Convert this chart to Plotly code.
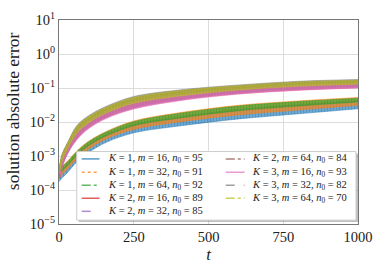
import plotly.graph_objects as go

# ---------------- data ----------------
t = [1, 10, 30, 60, 100, 160, 250, 400, 600, 800, 1000]

names = [
    "<i>K</i> = 1, <i>m</i> = 16, <i>n</i><sub>0</sub> = 95",
    "<i>K</i> = 1, <i>m</i> = 32, <i>n</i><sub>0</sub> = 91",
    "<i>K</i> = 1, <i>m</i> = 64, <i>n</i><sub>0</sub> = 92",
    "<i>K</i> = 2, <i>m</i> = 16, <i>n</i><sub>0</sub> = 89",
    "<i>K</i> = 2, <i>m</i> = 32, <i>n</i><sub>0</sub> = 85",
    "<i>K</i> = 2, <i>m</i> = 64, <i>n</i><sub>0</sub> = 84",
    "<i>K</i> = 3, <i>m</i> = 16, <i>n</i><sub>0</sub> = 93",
    "<i>K</i> = 3, <i>m</i> = 32, <i>n</i><sub>0</sub> = 82",
    "<i>K</i> = 3, <i>m</i> = 64, <i>n</i><sub>0</sub> = 70",
]

# lower / upper envelope of each oscillating error curve
k1_m16_lo = [1.78e-4, 2.24e-4, 3.39e-4, 6.76e-4, 1.29e-3, 2.57e-3, 4.79e-3, 7.59e-3, 1.23e-2, 1.74e-2, 2.45e-2]
k1_m16_hi = [3.09e-4, 3.89e-4, 5.75e-4, 1.12e-3, 2.19e-3, 4.27e-3, 8.32e-3, 1.41e-2, 2.34e-2, 3.24e-2, 4.17e-2]
k1_m32_lo = [2.24e-4, 2.82e-4, 4.27e-4, 8.51e-4, 1.62e-3, 3.24e-3, 6.03e-3, 1.00e-2, 1.62e-2, 2.24e-2, 3.09e-2]
k1_m32_hi = [3.98e-4, 5.01e-4, 7.24e-4, 1.41e-3, 2.75e-3, 5.37e-3, 1.07e-2, 1.86e-2, 3.09e-2, 4.17e-2, 5.25e-2]
k1_m64_lo = [2.88e-4, 3.63e-4, 5.37e-4, 1.05e-3, 2.04e-3, 3.98e-3, 7.76e-3, 1.29e-2, 2.14e-2, 2.95e-2, 3.89e-2]
k1_m64_hi = [3.80e-4, 4.79e-4, 6.92e-4, 1.35e-3, 2.63e-3, 5.13e-3, 1.02e-2, 1.78e-2, 2.95e-2, 3.98e-2, 5.01e-2]
k2_m16_lo = [2.09e-4, 4.68e-4, 1.26e-3, 3.16e-3, 6.76e-3, 1.35e-2, 2.51e-2, 4.37e-2, 6.76e-2, 8.71e-2, 0.102]
k2_m16_hi = [3.80e-4, 9.33e-4, 2.24e-3, 6.61e-3, 1.29e-2, 2.51e-2, 4.79e-2, 7.59e-2, 0.110, 0.141, 0.158]
k2_m32_lo = [2.14e-4, 4.90e-4, 1.29e-3, 3.31e-3, 7.08e-3, 1.41e-2, 2.63e-2, 4.47e-2, 7.08e-2, 9.12e-2, 0.105]
k2_m32_hi = [3.98e-4, 9.77e-4, 2.34e-3, 6.92e-3, 1.35e-2, 2.63e-2, 4.90e-2, 7.76e-2, 0.112, 0.145, 0.162]
k2_m64_lo = [2.24e-4, 5.13e-4, 1.35e-3, 3.47e-3, 7.41e-3, 1.45e-2, 2.75e-2, 4.68e-2, 7.24e-2, 9.33e-2, 0.110]
k2_m64_hi = [4.07e-4, 1.02e-3, 2.45e-3, 7.24e-3, 1.41e-2, 2.69e-2, 5.13e-2, 8.13e-2, 0.115, 0.148, 0.166]
k3_m16_lo = [2.00e-4, 4.47e-4, 1.20e-3, 3.02e-3, 6.46e-3, 1.29e-2, 2.40e-2, 4.17e-2, 6.61e-2, 8.51e-2, 0.100]
k3_m16_hi = [3.24e-4, 7.76e-4, 1.91e-3, 5.37e-3, 1.10e-2, 2.14e-2, 3.98e-2, 6.46e-2, 9.55e-2, 0.123, 0.141]
k3_m32_lo = [3.09e-4, 7.41e-4, 1.86e-3, 5.13e-3, 1.05e-2, 2.04e-2, 3.80e-2, 6.31e-2, 9.33e-2, 0.120, 0.138]
k3_m32_hi = [4.47e-4, 1.12e-3, 2.63e-3, 7.94e-3, 1.55e-2, 2.95e-2, 5.62e-2, 8.71e-2, 0.123, 0.158, 0.178]
k3_m64_lo = [2.88e-4, 6.76e-4, 1.70e-3, 4.68e-3, 9.55e-3, 1.86e-2, 3.55e-2, 5.75e-2, 8.71e-2, 0.112, 0.129]
k3_m64_hi = [4.27e-4, 1.05e-3, 2.51e-3, 7.41e-3, 1.45e-2, 2.75e-2, 5.25e-2, 8.32e-2, 0.117, 0.151, 0.170]

lows = [k1_m16_lo, k1_m32_lo, k1_m64_lo, k2_m16_lo, k2_m32_lo, k2_m64_lo, k3_m16_lo, k3_m32_lo, k3_m64_lo]
highs = [k1_m16_hi, k1_m32_hi, k1_m64_hi, k2_m16_hi, k2_m32_hi, k2_m64_hi, k3_m16_hi, k3_m32_hi, k3_m64_hi]

x_ticks = [0, 250, 500, 750, 1000]
y_ticks = [1e-5, 1e-4, 1e-3, 1e-2, 1e-1, 1e0, 1e1]
y_tick_text = ["10<sup>−5</sup>", "10<sup>−4</sup>", "10<sup>−3</sup>", "10<sup>−2</sup>",
               "10<sup>−1</sup>", "10<sup>0</sup>", "10<sup>1</sup>"]
y_title = "solution absolute error"

# ---------------- styles ----------------
colors = ["#1f77b4", "#ff7f0e", "#2ca02c", "#d62728", "#9467bd",
          "#8c564b", "#e377c2", "#7f7f7f", "#bcbd22"]
dashes = ["solid", "dot", "dashdot", "solid", "dash", "dashdot", "solid", "dash", "dashdot"]
FONT = "Liberation Serif"


def rgba(hex_color, a):
    h = hex_color.lstrip("#")
    r, g, b = int(h[0:2], 16), int(h[2:4], 16), int(h[4:6], 16)
    return f"rgba({r},{g},{b},{a})"


fig = go.Figure()
for name, col, lo, hi in zip(names, colors, lows, highs):
    fig.add_trace(go.Scatter(x=t, y=lo, mode="lines", line=dict(color=rgba(col, 0.8), width=0.6, shape="spline"),
                             showlegend=False, hoverinfo="skip"))
    fig.add_trace(go.Scatter(x=t, y=hi, mode="lines", fill="tonexty", fillcolor=rgba(col, 0.5),
                             fillpattern=dict(shape="|", size=3, solidity=0.6,
                                              fgcolor=rgba(col, 1.0), bgcolor=rgba(col, 0.55)),
                             line=dict(color=rgba(col, 0.8), width=0.6, shape="spline"),
                             name=name, showlegend=False))

# plot-area geometry (pixels) used for placing the hand-built legend
W, H = 383, 267
L, R, T, B = 59, 21, 10, 43
pw, ph = W - L - R, H - T - B


def px_x(x):
    return (x - L) / pw


def px_y(y):
    return (H - B - y) / ph


shapes = []
annotations = []
# legend frame with shadow
bx0, bx1, by0, by1 = 77, 360, 148, 220
shapes.append(dict(type="rect", xref="paper", yref="paper", layer="above",
                   x0=px_x(bx0 + 2), x1=px_x(bx1 + 2), y0=px_y(by1 + 2), y1=px_y(by0 + 2),
                   fillcolor="rgba(0,0,0,0.25)", line=dict(width=0)))
shapes.append(dict(type="rect", xref="paper", yref="paper", layer="above",
                   x0=px_x(bx0), x1=px_x(bx1), y0=px_y(by1), y1=px_y(by0),
                   fillcolor="white", opacity=1, line=dict(color="#cccccc", width=1)))
row_y = [155.7, 169.7, 183.4, 197.0, 210.7]
col_line = [(82, 100, 107), (228, 247, 253)]
for i, (name, col, dash) in enumerate(zip(names, colors, dashes)):
    c = 0 if i < 5 else 1
    r = i if i < 5 else i - 5
    x0, x1, xt = col_line[c]
    yy = px_y(row_y[r])
    shapes.append(dict(type="line", xref="paper", yref="paper", layer="above",
                       x0=px_x(x0), x1=px_x(x1), y0=yy, y1=yy,
                       line=dict(color=rgba(col, 0.75), width=1.5, dash=dash)))
    annotations.append(dict(text=name, xref="paper", yref="paper", x=px_x(xt), y=yy,
                            xanchor="left", yanchor="middle", showarrow=False,
                            font=dict(family=FONT, size=10.5, color="#222")))

# y-axis label (placed like the reference)
annotations.append(dict(text=y_title, xref="paper", yref="paper", x=px_x(12), y=px_y(106),
                        xanchor="center", yanchor="middle", textangle=-90, showarrow=False,
                        font=dict(family=FONT, size=17.5, color="#222")))

fig.update_layout(
    width=W, height=H,
    margin=dict(l=L, r=R, t=T, b=B),
    paper_bgcolor="white", plot_bgcolor="white",
    font=dict(family=FONT, size=14, color="#222"),
    showlegend=False,
    shapes=shapes, annotations=annotations,
    xaxis=dict(range=[0, 1000], tickvals=x_ticks, ticktext=[str(v) for v in x_ticks],
               showgrid=True, gridcolor="#dcdcdc", gridwidth=1, zeroline=False,
               showline=True, linecolor="#777", linewidth=1, mirror=True,
               ticks="", tickfont=dict(family=FONT, size=14.5),
               title=dict(text="<i>t</i>", font=dict(family=FONT, size=17), standoff=0)),
    yaxis=dict(type="log", range=[-5, 1], tickvals=y_ticks, ticktext=y_tick_text,
               showgrid=True, gridcolor="#dcdcdc", gridwidth=1, zeroline=False,
               showline=True, linecolor="#777", linewidth=1, mirror=True,
               ticks="", tickfont=dict(family=FONT, size=14.5)),
)

fig.write_html("out.html", config={"displayModeBar": False},
               post_script="document.body.style.margin='0';")
